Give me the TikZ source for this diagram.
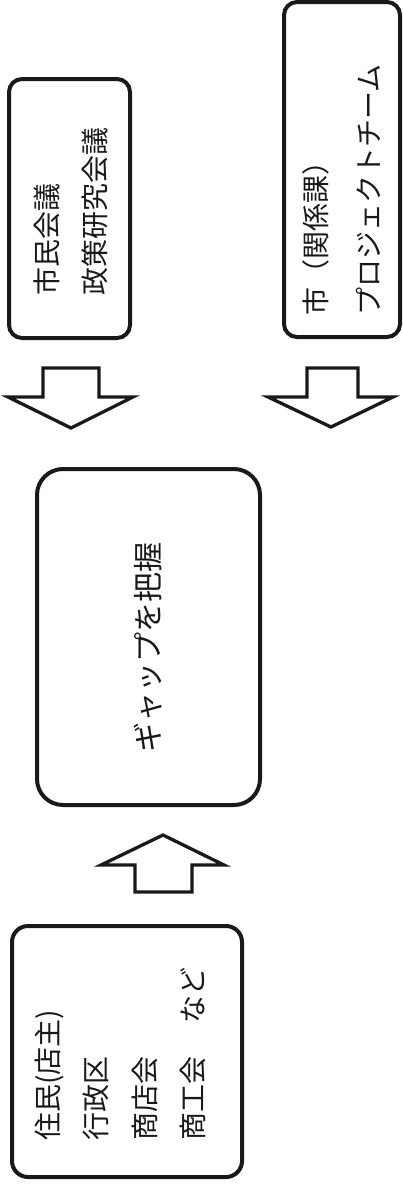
\documentclass[tikz,border=0pt]{standalone}
\usepackage{fontspec}
\newfontfamily\jp{Noto Sans CJK JP}
\begin{document}
\begin{tikzpicture}[x=1pt,y=-1pt,
  box/.style={draw=black!90, line width=4pt, rectangle, inner sep=0pt},
  blk/.style={draw=black!90, line width=3.3pt, fill=white, line join=miter},
  lbl/.style={inner sep=0pt, rotate=90, align=left, anchor=west, text=black!90}]
\useasboundingbox (0,0) rectangle (402,1184);
% boxes
\node[box, rounded corners=13pt, minimum width=121pt, minimum height=259pt] (A) at (69.5,208.5) {};
\node[box, rounded corners=13pt, minimum width=116pt, minimum height=335pt] (B) at (342,169.5) {};
\node[box, rounded corners=26pt, minimum width=223pt, minimum height=336pt] (G) at (148.5,637) {};
\node[box, rounded corners=16pt, minimum width=230pt, minimum height=251pt] (D) at (127,1051.5) {};
% texts
\node[lbl, font=\jp\fontsize{28pt}{48pt}\selectfont] (tA) at (71,296) {市民会議\\政策研究会議};
\node[lbl, font=\jp\fontsize{28pt}{53pt}\selectfont] (tB) at (342,316) {市（関係課）\\プロジェクトチーム};
\node[lbl, anchor=center, font=\jp\fontsize{30pt}{36pt}\selectfont] (tG) at (148,647) {ギャップを把握};
\node[lbl, font=\jp\fontsize{28pt}{48.3pt}\selectfont] (tD) at (120.5,1141) {住民(店主)\\行政区\\商店会\\商工会\hspace{33pt}など};
% block arrows
\coordinate (a1) at (71,428);
\draw[blk] (43,368) -- (99,368) -- (99,397) -- (133,397) -- (a1) -- (8,397) -- (43,397) -- cycle;
\coordinate (b1) at (331,427);
\draw[blk] (307,368) -- (358,368) -- (358,397) -- (393,397) -- (b1) -- (268,397) -- (307,397) -- cycle;
\coordinate (c1) at (163,835);
\draw[blk] (135,892) -- (192,892) -- (192,865) -- (224,865) -- (c1) -- (101,865) -- (135,865) -- cycle;
\end{tikzpicture}
\end{document}
